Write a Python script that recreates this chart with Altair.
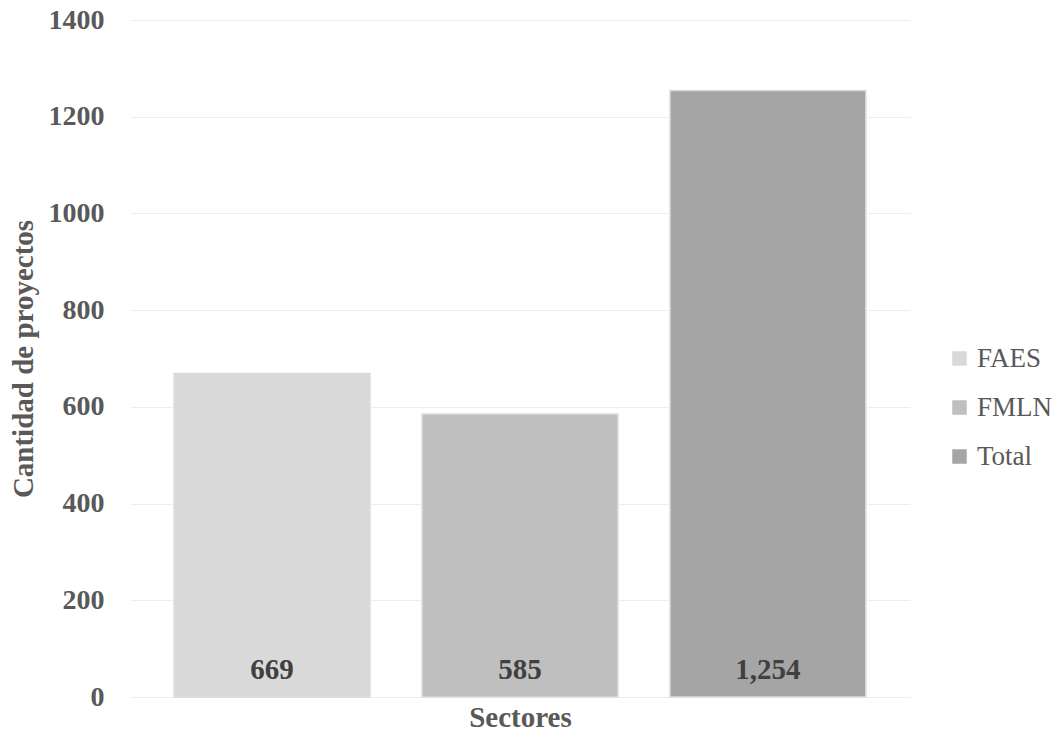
import altair as alt
import pandas as pd

sectors = ["FAES", "FMLN", "Total"]
values = [669, 585, 1254]
labels = ["669", "585", "1,254"]
colors = ["#d9d9d9", "#bfbfbf", "#a5a5a5"]

df = pd.DataFrame({"Sector": sectors, "Cantidad": values, "Etiqueta": labels})

FONT = "Liberation Serif"

x = alt.X("Sector:N", sort=sectors,
          scale=alt.Scale(paddingInner=0.21, paddingOuter=0.178),
          axis=alt.Axis(title="Sectores", labels=False, ticks=False, domain=True,
                        domainColor="#eeeeee", titleFontSize=29, titleFont=FONT,
                        titleFontWeight="bold", titleColor="#595959", titlePadding=6))

bars = alt.Chart(df).mark_bar(stroke="#dcdcdc", strokeWidth=1.5).encode(
    x=x,
    y=alt.Y("Cantidad:Q",
            scale=alt.Scale(domain=[0, 1400], nice=False),
            axis=alt.Axis(title="Cantidad de proyectos", values=list(range(0, 1401, 200)),
                          format="d",
                          grid=True, gridColor="#eeeeee", domain=False, ticks=False,
                          labelFontSize=28, labelFont=FONT, labelFontWeight="bold",
                          labelColor="#595959", labelPadding=26,
                          titleFontSize=29, titleFont=FONT, titleFontWeight="bold",
                          titleColor="#595959", titlePadding=10)),
    color=alt.Color("Sector:N", sort=sectors,
                    scale=alt.Scale(domain=sectors, range=colors),
                    legend=alt.Legend(title=None, orient="none", legendX=816, legendY=325,
                                      symbolType="square", symbolSize=210,
                                      symbolStrokeWidth=0, labelFontSize=27, labelFont=FONT,
                                      labelColor="#595959", rowPadding=21, labelOffset=4,
                                      padding=0)),
)

text = alt.Chart(df).mark_text(font=FONT, fontSize=29, fontWeight="bold",
                               color="#404040", baseline="middle", dy=-27).encode(
    x=alt.X("Sector:N", sort=sectors),
    y=alt.datum(0),
    text="Etiqueta:N",
)

chart = (bars + text).properties(
    width=780, height=677,
    autosize=alt.AutoSizeParams(type="none"),
    padding={"left": 122, "top": 12, "right": 142, "bottom": 33},
).configure_view(stroke=None)

chart.save("out.html", embed_options={"renderer": "svg", "actions": False})
